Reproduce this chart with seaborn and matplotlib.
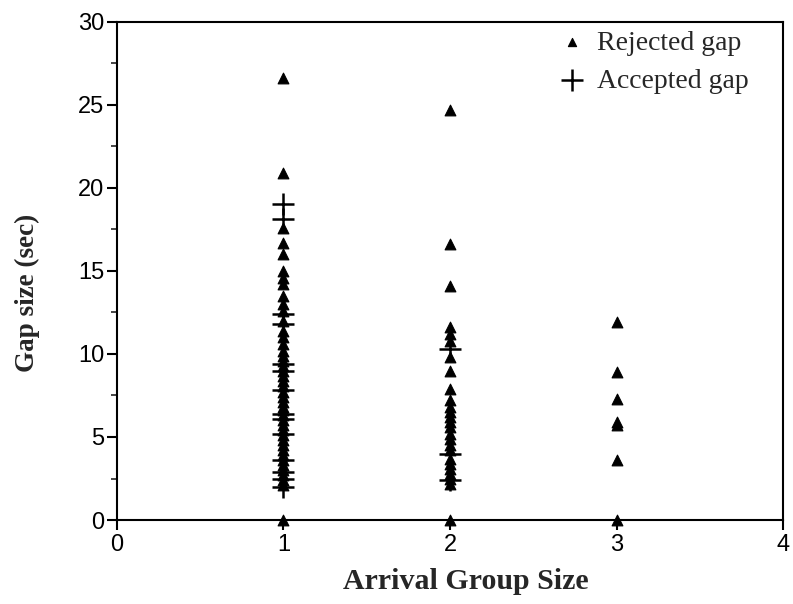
import matplotlib
matplotlib.use("Agg")
import matplotlib.pyplot as plt
import seaborn as sns
import pandas as pd
from matplotlib.ticker import MultipleLocator

# Rejected gaps (seconds) by arrival group size
rej_g1 = [26.6, 20.9, 17.6, 16.7, 16.0, 15.0, 14.6, 14.2, 13.5, 13.0, 12.6, 12.0,
          11.4, 11.0, 10.6, 10.2, 9.9, 9.6, 9.3, 9.0, 8.7, 8.4, 8.1, 7.7, 7.4,
          7.1, 6.8, 6.6, 6.3, 6.0, 5.7, 5.4, 5.1, 4.8, 4.5, 4.2, 3.9, 3.6, 3.3,
          3.0, 2.7, 2.4, 2.1, 0.0]
rej_g2 = [24.7, 16.6, 14.1, 11.6, 11.2, 10.8, 9.8, 9.0, 7.9, 7.2, 6.8, 6.5, 6.2,
          5.9, 5.6, 5.2, 4.9, 4.5, 4.2, 3.7, 3.4, 3.1, 2.8, 2.5, 2.2, 0.0]
rej_g3 = [11.9, 8.9, 7.3, 5.9, 5.7, 3.6, 0.0]

# Accepted gaps (seconds)
acc_g1 = [19.0, 18.1, 12.4, 11.8, 9.4, 9.0, 7.8, 6.4, 6.1, 5.2, 3.6, 2.9, 2.5, 2.0]
acc_g2 = [10.3, 4.0, 2.4]
acc_g3 = []

group_sizes = [1, 2, 3]
x_ticks = [0, 1, 2, 3, 4]
y_ticks = [0, 5, 10, 15, 20, 25, 30]

rej = pd.DataFrame({
    "group": [1] * len(rej_g1) + [2] * len(rej_g2) + [3] * len(rej_g3),
    "gap": rej_g1 + rej_g2 + rej_g3,
})
acc = pd.DataFrame({
    "group": [1] * len(acc_g1) + [2] * len(acc_g2) + [3] * len(acc_g3),
    "gap": acc_g1 + acc_g2 + acc_g3,
})

sns.set_style("ticks")
plt.rcParams["font.family"] = ["Liberation Sans", "DejaVu Sans"]

fig = plt.figure(figsize=(7.93, 6.04), dpi=100)
ax = fig.add_axes([0.1475, 0.139, 0.840, 0.825])

sns.scatterplot(data=rej, x="group", y="gap", marker="^", s=60, color="black",
                edgecolor="black", linewidth=0.8, ax=ax, label="Rejected gap",
                clip_on=False, zorder=3)
sns.scatterplot(data=acc, x="group", y="gap", marker="+", s=260, color="black",
                linewidth=1.8, ax=ax, label="Accepted gap", clip_on=False, zorder=4)

ax.set_xlim(0, 4)
ax.set_ylim(0, 30)
ax.set_xticks(x_ticks)
ax.set_yticks(y_ticks)
ax.yaxis.set_minor_locator(MultipleLocator(2.5))
ax.tick_params(axis="both", which="major", direction="out", length=7, width=1.5,
               labelsize=17, colors="black", pad=2)
ax.tick_params(axis="y", which="minor", direction="out", length=4, width=1.2)
ax.tick_params(axis="x", which="major", pad=3)
for sp in ax.spines.values():
    sp.set_visible(True)
    sp.set_linewidth(1.5)
    sp.set_color("black")

ax.set_xlabel("Arrival Group Size", fontsize=21.5, fontweight="bold",
              family=["Liberation Serif"])
ax.set_ylabel("Gap size (sec)", fontsize=19.5, fontweight="bold",
              family=["Liberation Serif"])
ax.xaxis.set_label_coords(0.524, -0.096)
ax.yaxis.set_label_coords(-0.115, 0.456)

leg = ax.legend(loc="upper right", frameon=False,
                prop={"family": "Liberation Serif", "size": 20},
                handletextpad=0.3, borderaxespad=0.1, labelspacing=0.45,
                markerscale=1.0, bbox_to_anchor=(0.97, 1.011), handlelength=1.2)
leg.legend_handles[0].set_sizes([35])

fig.savefig("out.png", dpi=100)
